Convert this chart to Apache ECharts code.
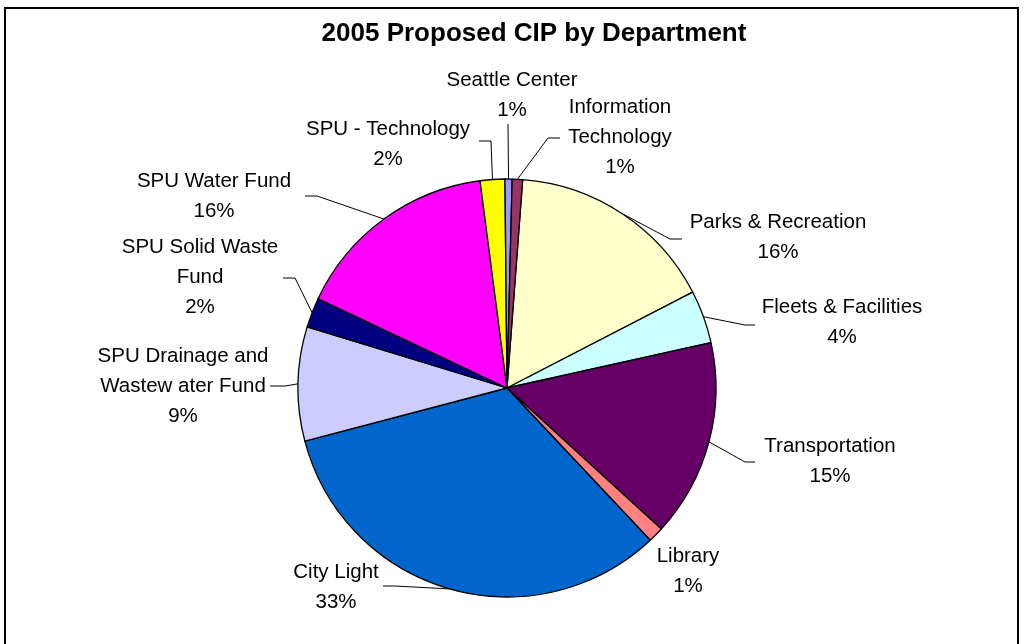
<!DOCTYPE html>
<html>
<head>
<meta charset="utf-8">
<script src="https://cdn.jsdelivr.net/npm/echarts@6/dist/echarts.min.js"></script>
<style>
html,body{margin:0;padding:0;background:#fff;}
#chart{width:1026px;height:644px;}
</style>
</head>
<body>
<div id="chart"></div>
<script>
// ---- data ----
const title = '2005 Proposed CIP by Department';
const categories = [
  'Parks & Recreation',
  'Fleets & Facilities',
  'Transportation',
  'Library',
  'City Light',
  'SPU Drainage and\nWastew ater Fund',
  'SPU Solid Waste\nFund',
  'SPU Water Fund',
  'SPU - Technology',
  'Seattle Center',
  'Information\nTechnology'
];
const values = [16.2, 4.1, 15.25, 1.2, 32.9, 8.8, 2.3, 15.9, 1.9, 0.55, 0.8];
const colors = ['#FFFFCC', '#CCFFFF', '#660066', '#FF8080', '#0066CC', '#CCCCFF', '#000080', '#FF00FF', '#FFFF00', '#9999FF', '#993366'];

// ---- label layout (positions of label block centres and leader bends) ----
const labelPos = [
  [778, 237], [842, 322], [830, 461], [688, 571], [336, 587],
  [183, 386], [200, 277], [214, 196], [388, 144], [512, 95], [620, 137]
];
const leaders = [
  [[670, 239], [682, 239]],
  [[745, 325], [755, 325]],
  [[745, 462], [755, 462]],
  null,
  [[395, 586], [383, 586]],
  [[285, 386], [270, 386]],
  [[295, 278], [283, 278]],
  [[317, 196], [305, 196]],
  [[491, 141], [479, 141]],
  [[508, 124]],
  [[548, 138], [560, 138]]
];

const chart = echarts.init(document.getElementById('chart'), null, {renderer: 'canvas'});
const data = categories.map((c, i) => ({
  name: c,
  value: values[i],
  itemStyle: {color: colors[i]},
  labelLine: {show: leaders[i] !== null}
}));

chart.setOption({
  animation: false,
  backgroundColor: '#fff',
  title: {
    text: title,
    left: 529,
    textAlign: 'center',
    top: 16,
    textStyle: {fontFamily: 'Liberation Sans, Arial, sans-serif', fontWeight: 'bold', fontSize: 26, color: '#000'}
  },
  graphic: [{
    type: 'rect',
    shape: {x: 5, y: 8, width: 1013, height: 650},
    style: {fill: 'none', stroke: '#000', lineWidth: 2},
    silent: true
  }],
  series: [{
    type: 'pie',
    center: [507, 388],
    radius: 209,
    startAngle: 85.7,
    clockwise: true,
    avoidLabelOverlap: false,
    data: data,
    itemStyle: {borderColor: '#000', borderWidth: 1.3},
    label: {
      show: true,
      position: 'outside',
      color: '#000',
      fontFamily: 'Liberation Sans, Arial, sans-serif',
      fontSize: 20.5,
      lineHeight: 30,
      align: 'center',
      formatter: p => p.name + '\n' + Math.round(p.percent) + '%'
    },
    labelLine: {show: true, length: 10, length2: 10, lineStyle: {color: '#000', width: 1}},
    labelLayout: function (params) {
      const i = params.dataIndex;
      const res = {x: labelPos[i][0], y: labelPos[i][1], align: 'center', verticalAlign: 'middle'};
      if (leaders[i] && params.labelLinePoints) {
        res.labelLinePoints = [params.labelLinePoints[0]].concat(leaders[i]);
      }
      return res;
    },
    emphasis: {disabled: true}
  }]
});
</script>
</body>
</html>
